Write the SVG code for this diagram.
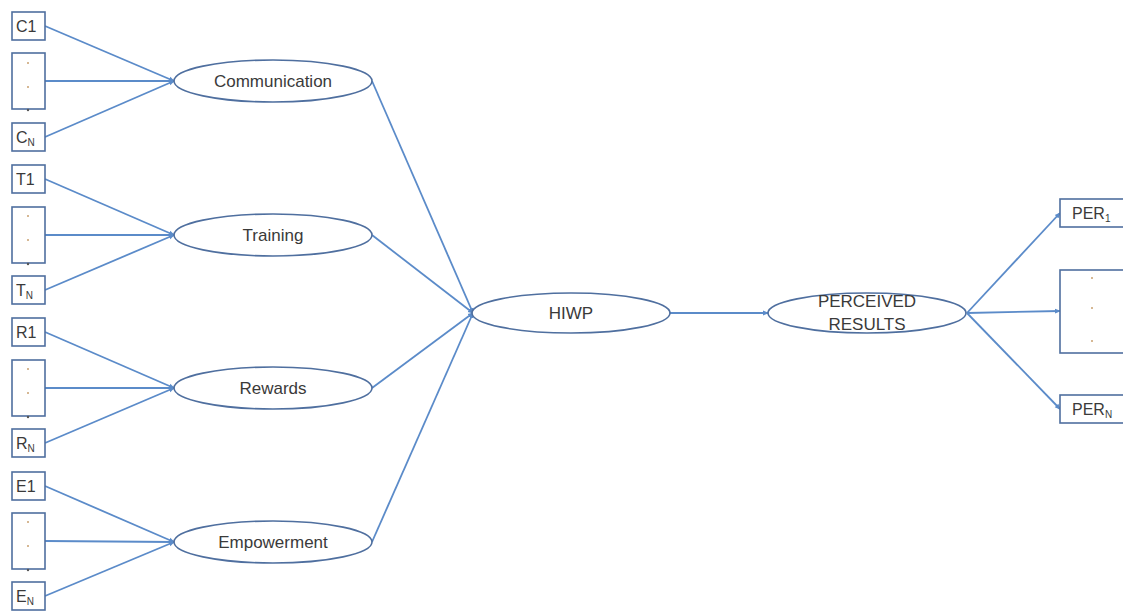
<svg xmlns="http://www.w3.org/2000/svg" width="1123" height="612" viewBox="0 0 1123 612">
<defs>
<style>
.bx{fill:#fff;stroke:#4f6f9f;stroke-width:1.6}
.el{fill:#fff;stroke:#4f6f9f;stroke-width:1.6}
.ln{stroke:#5b8bc9;stroke-width:1.8;fill:none}
.t{font-family:"Liberation Sans",Arial,sans-serif;font-size:17px;fill:#3a3a3a;text-anchor:middle}
.bt{font-family:"Liberation Sans",Arial,sans-serif;font-size:16px;fill:#3a3a3a}
.sub{font-size:10px}
.dt{fill:#c8a070}
</style>
<marker id="ah" markerWidth="6" markerHeight="6" refX="5" refY="3" orient="auto" markerUnits="userSpaceOnUse">
<path d="M0,0.5 L6,3 L0,5.5 z" fill="#5b8bc9"/>
</marker>
</defs>
<g id="connectors">
<path class="ln" marker-end="url(#ah)" d="M45,26 L174,81"/>
<path class="ln" marker-end="url(#ah)" d="M45,81 L174,81"/>
<path class="ln" marker-end="url(#ah)" d="M45,137 L174,81"/>
<path class="ln" marker-end="url(#ah)" d="M45,179 L174,235"/>
<path class="ln" marker-end="url(#ah)" d="M45,235 L174,235"/>
<path class="ln" marker-end="url(#ah)" d="M45,290 L174,235"/>
<path class="ln" marker-end="url(#ah)" d="M45,332 L174,388"/>
<path class="ln" marker-end="url(#ah)" d="M45,388 L174,388"/>
<path class="ln" marker-end="url(#ah)" d="M45,443 L174,388"/>
<path class="ln" marker-end="url(#ah)" d="M45,486 L174,542"/>
<path class="ln" marker-end="url(#ah)" d="M45,541 L174,542"/>
<path class="ln" marker-end="url(#ah)" d="M45,596 L174,542"/>
<path class="ln" marker-end="url(#ah)" d="M372,81 L473,313"/>
<path class="ln" marker-end="url(#ah)" d="M372,235 L473,313"/>
<path class="ln" marker-end="url(#ah)" d="M372,388 L473,313"/>
<path class="ln" marker-end="url(#ah)" d="M372,542 L473,313"/>
<path class="ln" marker-end="url(#ah)" d="M670,313 L768,313"/>
<path class="ln" marker-end="url(#ah)" d="M967,313 L1060,213"/>
<path class="ln" marker-end="url(#ah)" d="M967,313 L1060,311"/>
<path class="ln" marker-end="url(#ah)" d="M967,313 L1060,409"/>
</g>
<g id="C1"><rect class="bx" x="12" y="12" width="33" height="28"/><text class="bt" x="16" y="32">C1</text></g>
<g id="Cdots"><rect class="bx" x="12" y="53" width="33" height="56"/><circle class="dt" cx="28" cy="63" r="1"/><circle class="dt" cx="28" cy="87" r="1"/><circle cx="28" cy="110" r="1.2" fill="#555"/></g>
<g id="CN"><rect class="bx" x="12" y="123" width="33" height="28"/><text class="bt" x="16" y="143">C<tspan class="sub" dy="3">N</tspan></text></g>
<g id="T1"><rect class="bx" x="12" y="165" width="33" height="28"/><text class="bt" x="16" y="185">T1</text></g>
<g id="Tdots"><rect class="bx" x="12" y="207" width="33" height="56"/><circle class="dt" cx="28" cy="216" r="1"/><circle class="dt" cx="28" cy="240" r="1"/><circle cx="28" cy="264" r="1.2" fill="#555"/></g>
<g id="TN"><rect class="bx" x="12" y="276" width="33" height="28"/><text class="bt" x="16" y="296">T<tspan class="sub" dy="3">N</tspan></text></g>
<g id="R1"><rect class="bx" x="12" y="318" width="33" height="28"/><text class="bt" x="16" y="338">R1</text></g>
<g id="Rdots"><rect class="bx" x="12" y="360" width="33" height="56"/><circle class="dt" cx="28" cy="369" r="1"/><circle class="dt" cx="28" cy="393" r="1"/><circle cx="28" cy="417" r="1.2" fill="#555"/></g>
<g id="RN"><rect class="bx" x="12" y="429" width="33" height="28"/><text class="bt" x="16" y="449">R<tspan class="sub" dy="3">N</tspan></text></g>
<g id="E1"><rect class="bx" x="12" y="472" width="33" height="28"/><text class="bt" x="16" y="492">E1</text></g>
<g id="Edots"><rect class="bx" x="12" y="513" width="33" height="56"/><circle class="dt" cx="28" cy="522" r="1"/><circle class="dt" cx="28" cy="546" r="1"/><circle cx="28" cy="570" r="1.2" fill="#555"/></g>
<g id="EN"><rect class="bx" x="12" y="582" width="33" height="28"/><text class="bt" x="16" y="602">E<tspan class="sub" dy="3">N</tspan></text></g>
<g id="Communication"><ellipse class="el" cx="273" cy="81" rx="99" ry="21"/><text class="t" x="273" y="87">Communication</text></g>
<g id="Training"><ellipse class="el" cx="273" cy="235" rx="99" ry="21"/><text class="t" x="273" y="241">Training</text></g>
<g id="Rewards"><ellipse class="el" cx="273" cy="388" rx="99" ry="21"/><text class="t" x="273" y="394">Rewards</text></g>
<g id="Empowerment"><ellipse class="el" cx="273" cy="542" rx="99" ry="21"/><text class="t" x="273" y="548">Empowerment</text></g>
<g id="HIWP"><ellipse class="el" cx="571" cy="313" rx="99" ry="20"/><text class="t" x="571" y="319">HIWP</text></g>
<g id="PerceivedResults"><ellipse class="el" cx="867" cy="313" rx="99" ry="20"/><text class="t" x="867" y="307">PERCEIVED</text><text class="t" x="867" y="330">RESULTS</text></g>
<g id="PER1"><rect class="bx" x="1060" y="199" width="70" height="28"/><text class="bt" x="1072" y="219">PER<tspan class="sub" dy="3">1</tspan></text></g>
<g id="PERdots"><rect class="bx" x="1060" y="270" width="70" height="83"/><circle class="dt" cx="1092" cy="278" r="1"/><circle class="dt" cx="1092" cy="308" r="1"/><circle class="dt" cx="1092" cy="341" r="1"/></g>
<g id="PERN"><rect class="bx" x="1060" y="395" width="70" height="28"/><text class="bt" x="1072" y="415">PER<tspan class="sub" dy="3">N</tspan></text></g>
</svg>
